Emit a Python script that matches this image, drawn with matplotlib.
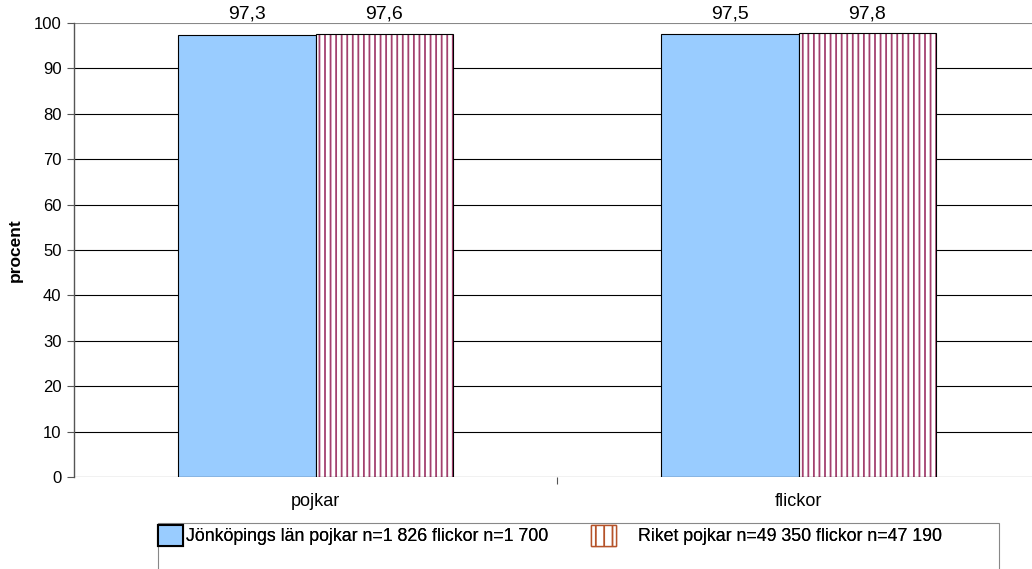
"""Andel i procent, Jönköpings län jämfört med riket."""

import matplotlib

matplotlib.use("Agg")
import matplotlib.pyplot as plt  # noqa: E402
import numpy as np  # noqa: E402
from matplotlib.patches import Patch, Rectangle  # noqa: E402

categories = ["pojkar", "flickor"]
lan_values = [97.3, 97.5]
riket_values = [97.6, 97.8]
series_labels = [
    "Jönköpings län pojkar n=1 826 flickor n=1 700",
    "Riket pojkar n=49 350 flickor n=47 190",
]
y_ticks = list(range(0, 101, 10))

BLUE = "#99ccff"
HATCH = "#a3416f"
HATCH_LEG = "#b5532a"

plt.rcParams["font.family"] = ["Liberation Sans", "DejaVu Sans"]
plt.rcParams["hatch.linewidth"] = 1.3

fig = plt.figure(figsize=(10.32, 5.69), dpi=100)
ax = fig.add_axes([74 / 1032, 1 - 477 / 569, 966 / 1032, 454 / 569])

x = np.arange(len(categories))
w = 0.2857

ax.bar(x - w / 2, lan_values, w, color=BLUE, edgecolor="black", linewidth=0.8, zorder=3)
ax.bar(x + w / 2, riket_values, w, color="white", edgecolor=HATCH, hatch="|||",
       linewidth=0, zorder=3)
ax.bar(x + w / 2, riket_values, w, color="none", edgecolor="black", linewidth=0.8, zorder=4)

for xs, vals in ((x - w / 2, lan_values), (x + w / 2, riket_values)):
    for xi, v in zip(xs, vals):
        ax.text(xi, 102.0, f"{v:.1f}".replace(".", ","), ha="center", va="center",
                fontsize=14, clip_on=False)

ax.set_xlim(-0.5, 1.5)
ax.set_ylim(0, 100)
ax.set_yticks(y_ticks)
ax.tick_params(axis="y", labelsize=12, length=5, width=0.8, color="#555555", pad=4)
ax.set_xticks([0.5])
ax.set_xticklabels([""])
ax.tick_params(axis="x", length=5, width=0.8, color="#555555")
for xi, cat in zip(x, categories):
    ax.text(xi, -3.6, cat, ha="center", va="top", fontsize=13, clip_on=False)

for t in y_ticks[1:]:
    ax.axhline(t, color="#888888" if t == 100 else "black", linewidth=0.8, zorder=1)
ax.axhline(0, color="black", linewidth=0.8, zorder=5)

ax.set_ylabel("procent", fontsize=12.5, fontweight="bold", labelpad=8)
for side in ("top", "right", "bottom"):
    ax.spines[side].set_visible(False)
ax.spines["left"].set_color("#555555")
ax.spines["left"].set_linewidth(1.0)

fig.patches.append(Rectangle((158 / 1032, -0.05), 841 / 1032, 0.05 + 46 / 569,
                             transform=fig.transFigure, facecolor="white",
                             edgecolor="#888888", linewidth=0.8))
handles = [
    Patch(facecolor=BLUE, edgecolor="black", linewidth=1.5),
    Patch(facecolor="white", edgecolor=HATCH_LEG, hatch="||", linewidth=1.0),
]
anchors = [(158 / 1032, 0.15), (591 / 1032, 1.25)]
for h, lab, (ax0, pad) in zip(handles, series_labels, anchors):
    leg = fig.legend([h], [lab], loc="upper left",
                     bbox_to_anchor=(ax0, 1 - 525 / 569), frameon=False,
                     fontsize=12.8, handlelength=1.4, handleheight=1.4,
                     handletextpad=pad, borderpad=0, borderaxespad=0)
    fig.add_artist(leg)

fig.savefig("out.png", dpi=100)
plt.close(fig)
